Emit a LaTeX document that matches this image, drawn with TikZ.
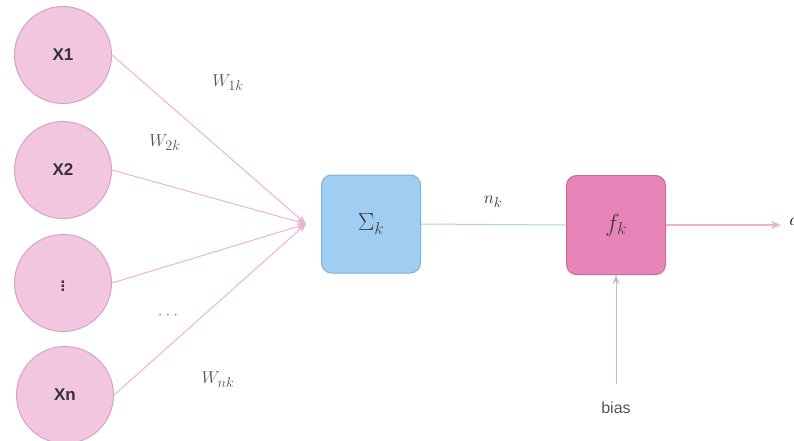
\documentclass[tikz,border=0pt]{standalone}
\usepackage{fontspec}
\setsansfont{Liberation Sans}
\usetikzlibrary{arrows.meta}
\definecolor{cfill}{HTML}{F3C6DF}
\definecolor{cdraw}{HTML}{D8A3C3}
\definecolor{sfill}{HTML}{9FCEF2}
\definecolor{sdraw}{HTML}{7EB2DF}
\definecolor{ffill}{HTML}{E984B9}
\definecolor{fdraw}{HTML}{C9689D}
\definecolor{pinkline}{HTML}{EDB3CF}
\definecolor{blueline}{HTML}{A9D2E2}
\definecolor{biasline}{HTML}{B4C2D9}
\definecolor{lbl}{HTML}{555555}
\tikzset{
  inp/.style={circle,minimum size=97pt,inner sep=0pt,fill=cfill,draw=cdraw,line width=1pt,font=\sffamily\bfseries\fontsize{17}{17}\selectfont,text=black!80},
  sumbox/.style={rectangle,rounded corners=10pt,minimum width=99pt,minimum height=98pt,fill=sfill,draw=sdraw,line width=1pt},
  fbox/.style={rectangle,rounded corners=10pt,minimum width=99pt,minimum height=99pt,fill=ffill,draw=fdraw,line width=1pt},
  wire/.style={draw=pinkline,line width=1pt,-{Stealth[length=9pt,width=7pt,fill=pinkline!90!red]}},
  wlbl/.style={text=lbl,font=\fontsize{19}{19}\selectfont},
}
\begin{document}
\begin{tikzpicture}[x=1pt,y=-1pt]
\useasboundingbox (0,0) rectangle (794,440);
\node[inp] (x1) at (63,55) {X1};
\node[inp] (x2) at (63,170) {X2};
\node[inp] (xd) at (63,283) {$\vdots$};
\node[inp] (xn) at (65,395) {Xn};
\coordinate (conv) at (306,224);
\node[sumbox,text=black!75] (sum) at (371,224) {\fontsize{24}{24}\selectfont$\Sigma_k$};
\node[fbox,text=black!75] (f) at (616,225) {\fontsize{24}{24}\selectfont$f_k$};
\coordinate (out) at (781,225);
\node[anchor=west,font=\fontsize{19}{19}\selectfont] (a) at (786,222) {$a$};
\node[font=\sffamily\fontsize{16}{16}\selectfont,text=lbl] (bias) at (616,408) {bias};
\coordinate (biasend) at (616,384);
\foreach \n in {x1,x2,xd,xn}{\draw[wire] (\n.east) -- (conv);}
\draw[draw=blueline,line width=1pt] (sum.east) -- (f.west);
\draw[draw=pinkline,line width=1.2pt,-{Stealth[length=10pt,width=8pt]}] (f.east) -- (out);
\draw[draw=biasline,line width=1pt,-{Stealth[length=9pt,width=7pt]}] (biasend) -- (f.south);
\node[wlbl] (w1) at (228,83) {$W_{1k}$};
\node[wlbl] (w2) at (165,143) {$W_{2k}$};
\node[text=lbl!70,font=\fontsize{16}{16}\selectfont] (dots) at (168,316) {$\cdots$};
\node[wlbl] (wn) at (218,380) {$W_{nk}$};
\node[text=black!80,font=\fontsize{19}{19}\selectfont] (nk) at (493,202) {$n_k$};
\end{tikzpicture}
\end{document}
